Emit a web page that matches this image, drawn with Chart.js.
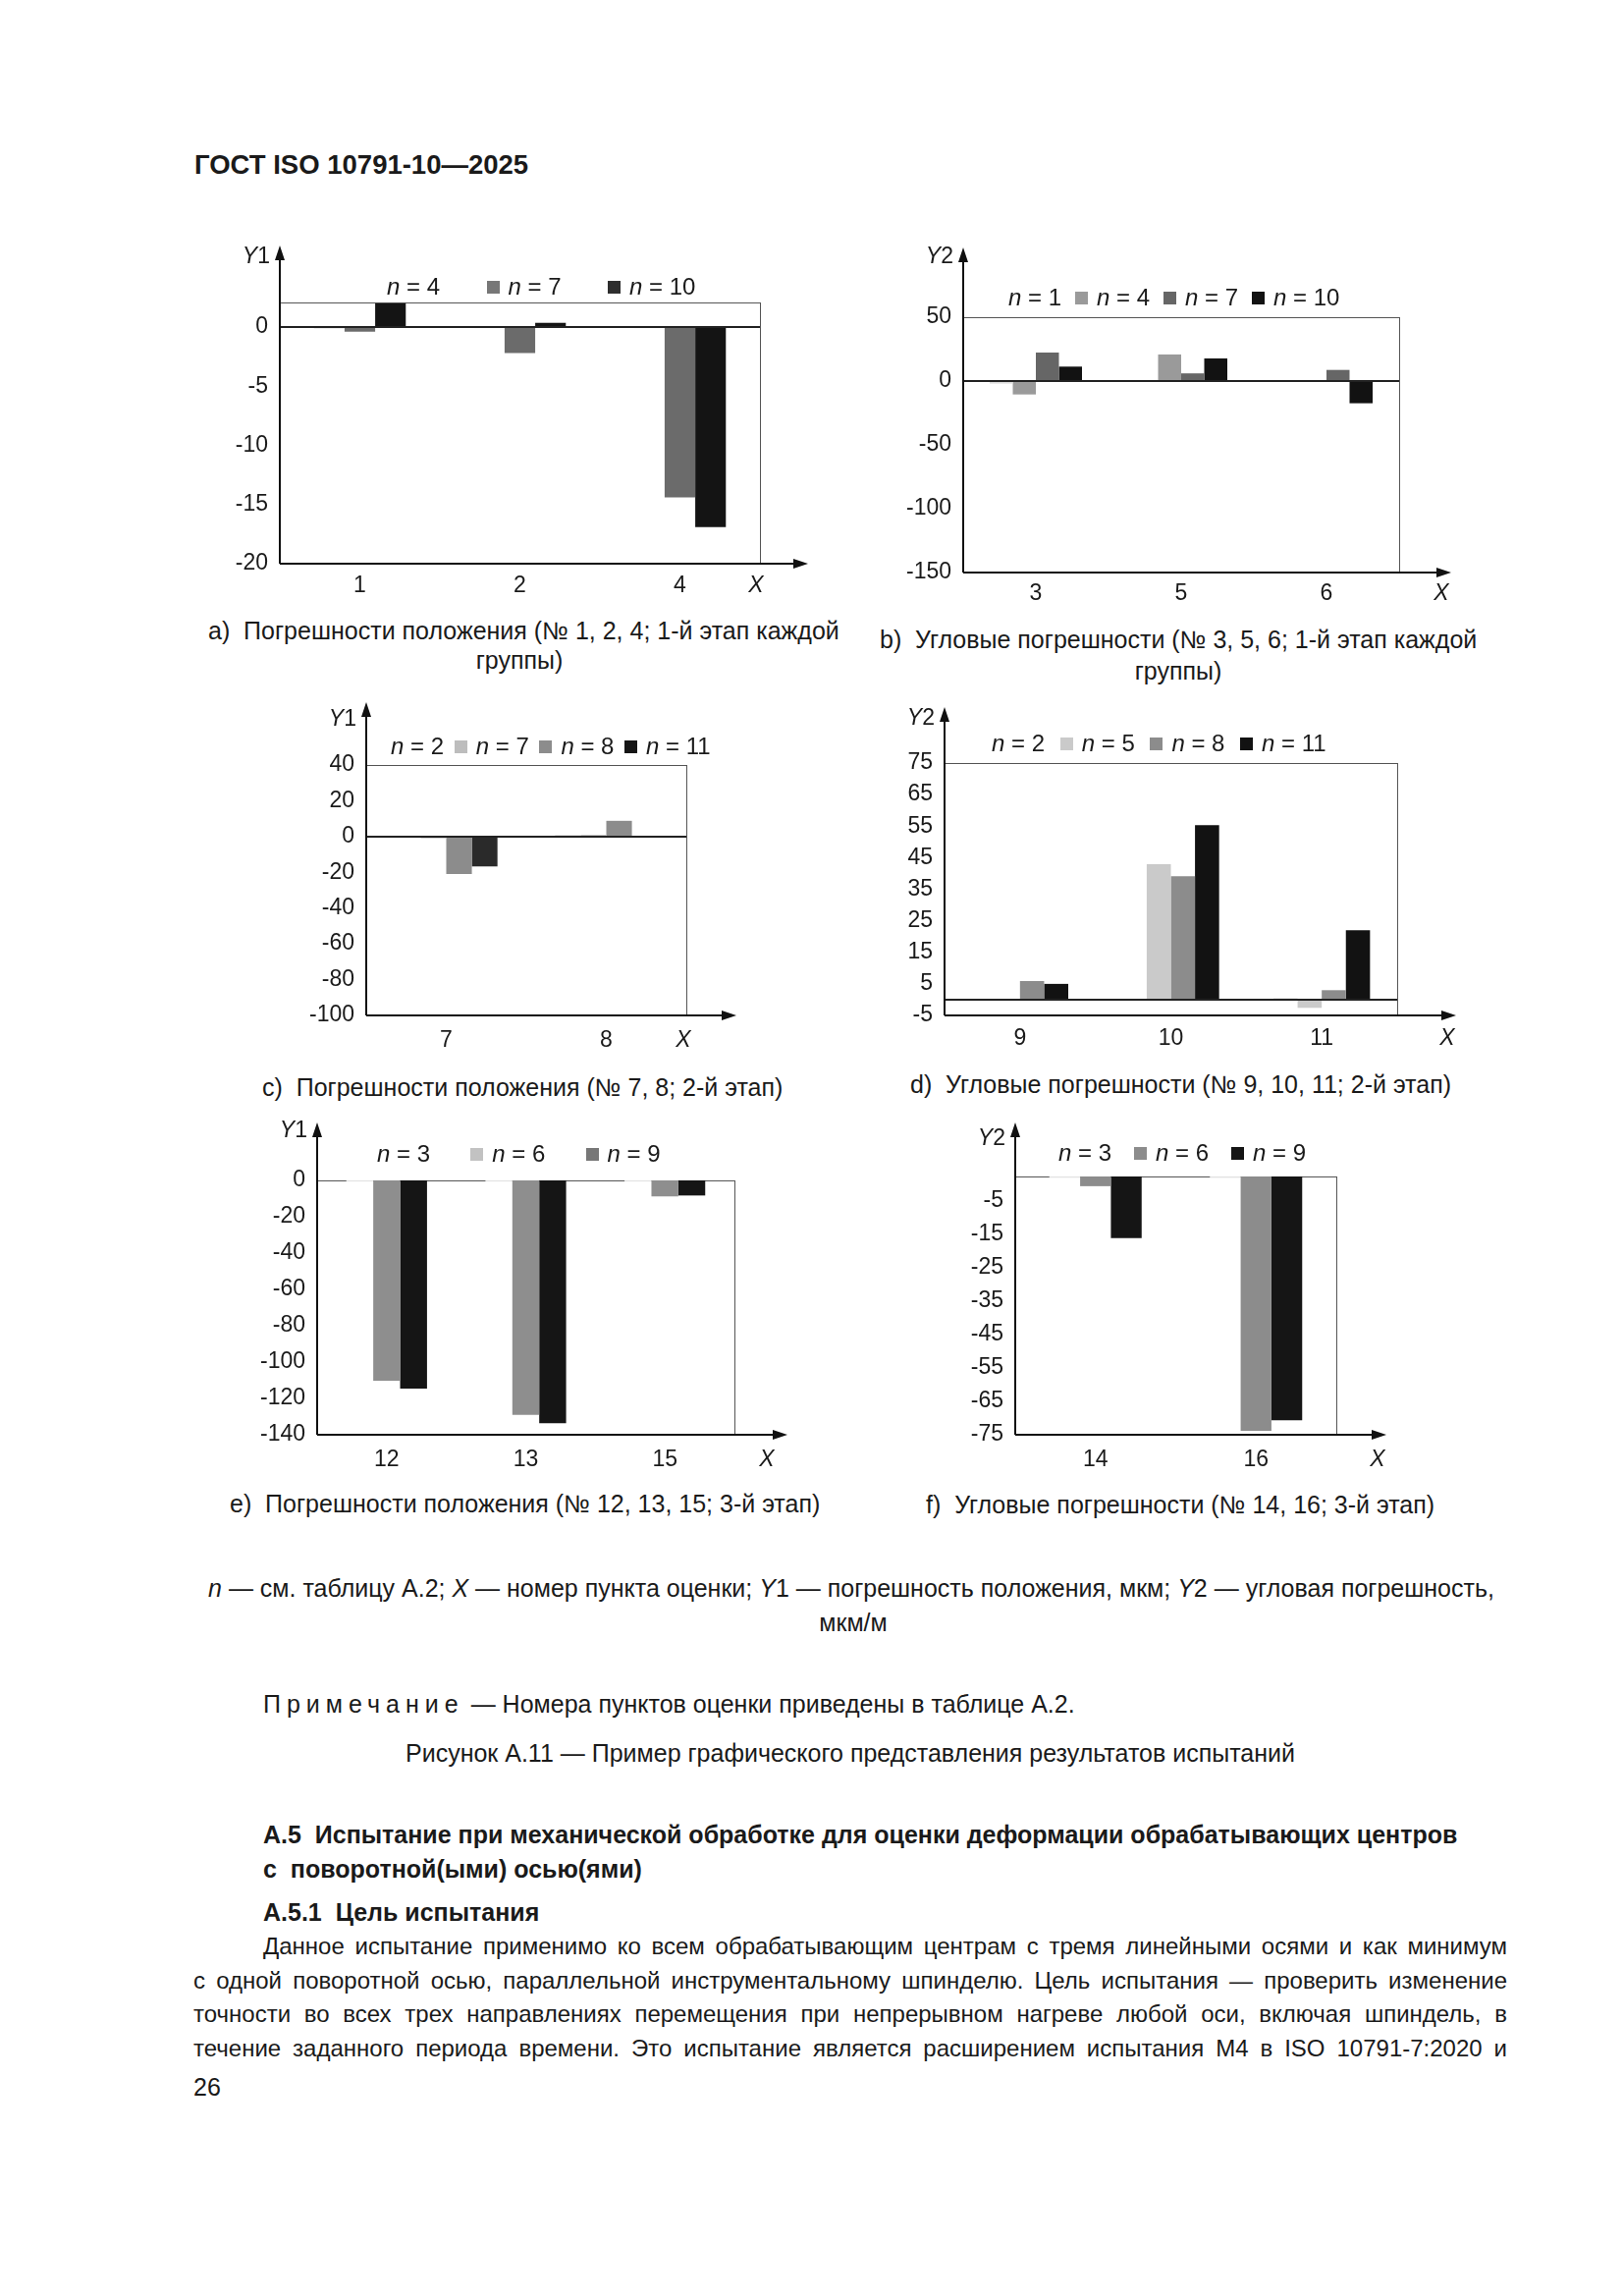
<!DOCTYPE html>
<html><head><meta charset="utf-8">
<script src="https://cdn.jsdelivr.net/npm/chart.js@4.4.1/dist/chart.umd.min.js"></script>
<style>
html,body{margin:0;padding:0;background:#fff;}
body{width:1653px;height:2338px;position:relative;overflow:hidden;font-family:"Liberation Sans",Arial,sans-serif;color:#1a1a1a;}
.t{position:absolute;white-space:pre;font-size:25px;line-height:30px;transform:translateY(-50%);}
.c{transform:translate(-50%,-50%);}
.b{font-weight:bold;}
.j{text-align:justify;text-align-last:justify;white-space:normal;font-size:24px;}
canvas{position:absolute;}
.lg{position:absolute;font-size:24px;line-height:28px;white-space:pre;display:flex;align-items:center;transform:translateY(-50%);}
.lg .sw{display:inline-block;width:13px;height:13px;margin-right:9px;}
</style></head><body>

<div class="t b" style="left:198px;top:168px;font-size:27.5px;">ГОСТ ISO 10791-10—2025</div>

<div class="t" style="left:212px;top:642px;">a)  Погрешности положения (№ 1, 2, 4; 1-й этап каждой</div>
<div class="t c" style="left:529px;top:672px;">группы)</div>
<div class="t" style="left:896px;top:651px;">b)  Угловые погрешности (№ 3, 5, 6; 1-й этап каждой</div>
<div class="t c" style="left:1200px;top:683px;">группы)</div>
<div class="t" style="left:267px;top:1107px;">c)  Погрешности положения (№ 7, 8; 2-й этап)</div>
<div class="t" style="left:927px;top:1104px;">d)  Угловые погрешности (№ 9, 10, 11; 2-й этап)</div>
<div class="t" style="left:234px;top:1531px;">e)  Погрешности положения (№ 12, 13, 15; 3-й этап)</div>
<div class="t" style="left:943px;top:1532px;">f)  Угловые погрешности (№ 14, 16; 3-й этап)</div>

<div class="t c" style="left:867px;top:1617px;"><i>n</i> — см. таблицу А.2; <i>X</i> — номер пункта оценки; <i>Y</i>1 — погрешность положения, мкм; <i>Y</i>2 — угловая погрешность,</div>
<div class="t c" style="left:869px;top:1652px;">мкм/м</div>
<div class="t" style="left:268px;top:1735px;"><span style="letter-spacing:6px;">Примечание</span> — Номера пунктов оценки приведены в таблице А.2.</div>
<div class="t c" style="left:866px;top:1785px;">Рисунок А.11 — Пример графического представления результатов испытаний</div>

<div class="t b" style="left:268px;top:1868px;">А.5  Испытание при механической обработке для оценки деформации обрабатывающих центров</div>
<div class="t b" style="left:268px;top:1903px;">с  поворотной(ыми) осью(ями)</div>
<div class="t b" style="left:268px;top:1947px;">А.5.1  Цель испытания</div>
<div class="t j" style="left:268px;width:1267px;top:1982px;">Данное испытание применимо ко всем обрабатывающим центрам с тремя линейными осями и как минимум</div>
<div class="t j" style="left:197px;width:1338px;top:2017px;">с одной поворотной осью, параллельной инструментальному шпинделю. Цель испытания — проверить изменение</div>
<div class="t j" style="left:197px;width:1338px;top:2051px;">точности во всех трех направлениях перемещения при непрерывном нагреве любой оси, включая шпиндель, в</div>
<div class="t j" style="left:197px;width:1338px;top:2086px;">течение заданного периода времени. Это испытание является расширением испытания М4 в ISO 10791-7:2020 и</div>
<div class="t" style="left:197px;top:2125px;">26</div>

<script>
// ================= DATA =================
// a) position errors, points 1, 2, 4
const aCategories = ['1', '2', '4'];
const aSeriesNames = ['n = 4', 'n = 7', 'n = 10'];
const aN4  = [-0.15, -0.1, -0.1];
const aN7  = [-0.4, -2.2, -14.4];
const aN10 = [2.0, 0.35, -16.9];
const aYTicks = [0, -5, -10, -15, -20];

// b) angular errors, points 3, 5, 6
const bCategories = ['3', '5', '6'];
const bSeriesNames = ['n = 1', 'n = 4', 'n = 7', 'n = 10'];
const bN1  = [-2, 0.5, 0.3];
const bN4  = [-10.5, 20.8, 0];
const bN7  = [22.3, 6, 8.7];
const bN10 = [11.3, 17.7, -17.4];
const bYTicks = [50, 0, -50, -100, -150];

// c) position errors, points 7, 8
const cCategories = ['7', '8'];
const cSeriesNames = ['n = 2', 'n = 7', 'n = 8', 'n = 11'];
const cN2  = [-0.5, 1];
const cN7  = [-1, 1];
const cN8  = [-21, 8.8];
const cN11 = [-16.7, 0];
const cYTicks = [40, 20, 0, -20, -40, -60, -80, -100];

// d) angular errors, points 9, 10, 11
const dCategories = ['9', '10', '11'];
const dSeriesNames = ['n = 2', 'n = 5', 'n = 8', 'n = 11'];
const dN2  = [0, 0.3, 0.5];
const dN5  = [0, 42.9, -2.6];
const dN8  = [5.9, 39.1, 3];
const dN11 = [5, 55.3, 22];
const dYTicks = [75, 65, 55, 45, 35, 25, 15, 5, -5];

// e) position errors, points 12, 13, 15
const eCategories = ['12', '13', '15'];
const eSeriesNames = ['n = 3', 'n = 6', 'n = 9'];
const eN3 = [-0.6, -0.6, -0.6];
const eN6 = [-110.3, -129, -8.8];
const eN9 = [-114.6, -133.7, -8.3];
const eYTicks = [0, -20, -40, -60, -80, -100, -120, -140];

// f) angular errors, points 14, 16
const fCategories = ['14', '16'];
const fSeriesNames = ['n = 3', 'n = 6', 'n = 9'];
const fN3 = [1.8, 1.8];
const fN6 = [-0.7, -73.8];
const fN9 = [-16.2, -70.7];
const fYTicks = [-5, -15, -25, -35, -45, -55, -65, -75];

// ================= STYLE / LAYOUT =================
const FONT = '"Liberation Sans", Arial, sans-serif';
const TICK_SIZE = 23;

const axisPlugin = {
  id: 'axisArrows',
  beforeDatasetsDraw(chart, args, o) {
    const {ctx, chartArea: a} = chart;
    ctx.save();
    ctx.strokeStyle = '#555';
    ctx.lineWidth = 1;
    ctx.strokeRect(Math.round(a.left) + 0.5, Math.round(a.top) + 0.5,
                   Math.round(a.right - a.left), Math.round(a.bottom - a.top));
    ctx.restore();
  },
  afterDatasetsDraw(chart, args, o) {
    const {ctx, chartArea: a, scales: {y}} = chart;
    ctx.save();
    if (o.zeroLine) {
      const zy = Math.round(y.getPixelForValue(0));
      ctx.strokeStyle = '#222';
      ctx.lineWidth = 2;
      ctx.beginPath(); ctx.moveTo(a.left, zy); ctx.lineTo(a.right, zy); ctx.stroke();
    }
    const L = Math.round(a.left), B = Math.round(a.bottom);
    const tipY = Math.round(a.top) - o.yExt, tipX = Math.round(a.right) + o.xExt;
    ctx.strokeStyle = '#111'; ctx.fillStyle = '#111'; ctx.lineWidth = 2;
    ctx.beginPath(); ctx.moveTo(L, B); ctx.lineTo(L, tipY + 10); ctx.stroke();
    ctx.beginPath(); ctx.moveTo(L, tipY); ctx.lineTo(L - 5, tipY + 15); ctx.lineTo(L + 5, tipY + 15); ctx.closePath(); ctx.fill();
    ctx.beginPath(); ctx.moveTo(L, B); ctx.lineTo(tipX - 10, B); ctx.stroke();
    ctx.beginPath(); ctx.moveTo(tipX, B); ctx.lineTo(tipX - 15, B - 5); ctx.lineTo(tipX - 15, B + 5); ctx.closePath(); ctx.fill();
    // axis names
    ctx.fillStyle = '#1a1a1a';
    ctx.textBaseline = 'middle';
    ctx.font = 'italic ' + TICK_SIZE + 'px ' + FONT;
    const wY = ctx.measureText('Y').width;
    ctx.font = TICK_SIZE + 'px ' + FONT;
    const wD = ctx.measureText(o.yDigit).width;
    const x0 = L - 10 - wY - wD;
    const yy = tipY + o.yLabDy;
    ctx.font = 'italic ' + TICK_SIZE + 'px ' + FONT;
    ctx.textAlign = 'left';
    ctx.fillText('Y', x0, yy);
    ctx.font = TICK_SIZE + 'px ' + FONT;
    ctx.fillText(o.yDigit, x0 + wY, yy);
    ctx.font = 'italic ' + TICK_SIZE + 'px ' + FONT;
    ctx.textAlign = 'center';
    ctx.fillText('X', Math.round(a.right) + o.xLab, B + o.xLabDy);
    ctx.restore();
  }
};

function makeChart(cfg) {
  const PADL = 120, PADT = 90, PADR = 80, PADB = 50;
  const box = cfg.box;
  const canvas = document.createElement('canvas');
  const W = box.r - box.l + PADL + PADR;
  const H = box.b - box.t + PADT + PADB;
  canvas.width = W; canvas.height = H;
  canvas.style.left = (box.l - PADL) + 'px';
  canvas.style.top = (box.t - PADT) + 'px';
  canvas.style.width = W + 'px';
  canvas.style.height = H + 'px';
  document.body.appendChild(canvas);

  const datasets = cfg.series.map((vals, i) => {
    const ds = {
      label: cfg.names[i],
      data: vals,
      backgroundColor: cfg.colors[i],
      borderWidth: 0,
      barPercentage: 1.0,
      categoryPercentage: cfg.catPct
    };
    if (cfg.base !== undefined) ds.base = cfg.base;
    return ds;
  });

  new Chart(canvas, {
    type: 'bar',
    data: {labels: cfg.categories, datasets},
    plugins: [axisPlugin],
    options: {
      responsive: false,
      animation: false,
      devicePixelRatio: 1,
      layout: {padding: {left: 0, top: PADT, right: PADR, bottom: 0}},
      plugins: {
        legend: {display: false},
        tooltip: {enabled: false},
        axisArrows: cfg.axis
      },
      scales: {
        x: {
          type: 'category',
          grid: {display: false, drawTicks: false},
          border: {display: false},
          ticks: {font: {family: FONT, size: TICK_SIZE}, color: '#1a1a1a',
                  padding: cfg.axis.xLabDy - 0.6 * TICK_SIZE, maxRotation: 0, autoSkip: false},
          afterFit: s => { s.height = PADB; }
        },
        y: {
          type: 'linear',
          min: cfg.yMin, max: cfg.yMax,
          grid: {display: false, drawTicks: false},
          border: {display: false},
          afterBuildTicks: s => { s.ticks = cfg.yTicks.map(v => ({value: v})); },
          ticks: {font: {family: FONT, size: TICK_SIZE}, color: '#1a1a1a', padding: 12,
                  callback: v => String(v)},
          afterFit: s => { s.width = PADL; }
        }
      }
    }
  });

  // HTML legend
  cfg.names.forEach((name, i) => {
    const d = document.createElement('div');
    d.className = 'lg';
    d.style.left = (cfg.legend.x0 + i * cfg.legend.pitch - 22) + 'px';
    d.style.top = cfg.legend.cy + 'px';
    const sw = document.createElement('span');
    sw.className = 'sw';
    sw.style.background = cfg.legendColors[i];
    d.appendChild(sw);
    const tx = document.createElement('span');
    tx.innerHTML = '<i>' + name.charAt(0) + '</i>' + name.slice(1);
    d.appendChild(tx);
    document.body.appendChild(d);
  });
}

makeChart({
  box: {l: 285, t: 308, r: 774, b: 574},
  categories: aCategories, names: aSeriesNames, series: [aN4, aN7, aN10],
  yMin: -20, yMax: 2.07, yTicks: aYTicks, catPct: 0.574,
  colors: ['#e6e6e6', '#6b6b6b', '#141414'],
  legendColors: ['#ffffff', '#777777', '#2e2e2e'],
  legend: {x0: 394, pitch: 123.5, cy: 292},
  axis: {zeroLine: true, yExt: 58, xExt: 49, xLab: -4, xLabDy: 23, yLabDy: 12, yDigit: '1'}
});
makeChart({
  box: {l: 981, t: 323, r: 1425, b: 583},
  categories: bCategories, names: bSeriesNames, series: [bN1, bN4, bN7, bN10],
  yMin: -150, yMax: 50, yTicks: bYTicks, catPct: 0.635,
  colors: ['#dcdcdc', '#9a9a9a', '#666666', '#121212'],
  legendColors: ['#ffffff', '#9a9a9a', '#666666', '#121212'],
  legend: {x0: 1027, pitch: 90, cy: 303},
  axis: {zeroLine: true, yExt: 71, xExt: 53, xLab: 43, xLabDy: 22, yLabDy: 10, yDigit: '2'}
});
makeChart({
  box: {l: 373, t: 779, r: 699, b: 1034},
  categories: cCategories, names: cSeriesNames, series: [cN2, cN7, cN8, cN11],
  yMin: -100, yMax: 40, yTicks: cYTicks, catPct: 0.64,
  colors: ['#e2e2e2', '#c4c4c4', '#8c8c8c', '#2a2a2a'],
  legendColors: ['#ffffff', '#bdbdbd', '#8c8c8c', '#151515'],
  legend: {x0: 398, pitch: 86.7, cy: 760},
  axis: {zeroLine: true, yExt: 64, xExt: 51, xLab: -3, xLabDy: 26, yLabDy: 18, yDigit: '1'}
});
makeChart({
  box: {l: 962, t: 777, r: 1423, b: 1034},
  categories: dCategories, names: dSeriesNames, series: [dN2, dN5, dN8, dN11],
  yMin: -5, yMax: 75, yTicks: dYTicks, catPct: 0.64,
  colors: ['#e2e2e2', '#cacaca', '#8c8c8c', '#121212'],
  legendColors: ['#ffffff', '#cacaca', '#8c8c8c', '#121212'],
  legend: {x0: 1010, pitch: 91.7, cy: 757},
  axis: {zeroLine: true, yExt: 57, xExt: 60, xLab: 51, xLabDy: 24, yLabDy: 12, yDigit: '2'}
});
makeChart({
  box: {l: 323, t: 1202, r: 748, b: 1461},
  categories: eCategories, names: eSeriesNames, series: [eN3, eN6, eN9],
  yMin: -140, yMax: 0, yTicks: eYTicks, catPct: 0.58,
  colors: ['#e2e2e2', '#8e8e8e', '#151515'],
  legendColors: ['#ffffff', '#c2c2c2', '#777777'],
  legend: {x0: 384, pitch: 117.3, cy: 1175},
  axis: {zeroLine: false, yExt: 59, xExt: 54, xLab: 33, xLabDy: 26, yLabDy: 9, yDigit: '1'}
});
makeChart({
  box: {l: 1034, t: 1198, r: 1361, b: 1461},
  categories: fCategories, names: fSeriesNames, series: [fN3, fN6, fN9],
  yMin: -75, yMax: 2.2, base: 2.2, yTicks: fYTicks, catPct: 0.575,
  colors: ['#e2e2e2', '#8c8c8c', '#151515'],
  legendColors: ['#ffffff', '#8c8c8c', '#151515'],
  legend: {x0: 1078, pitch: 99, cy: 1174},
  axis: {zeroLine: false, yExt: 55, xExt: 51, xLab: 42, xLabDy: 26, yLabDy: 17, yDigit: '2'}
});
</script>
</body></html>
